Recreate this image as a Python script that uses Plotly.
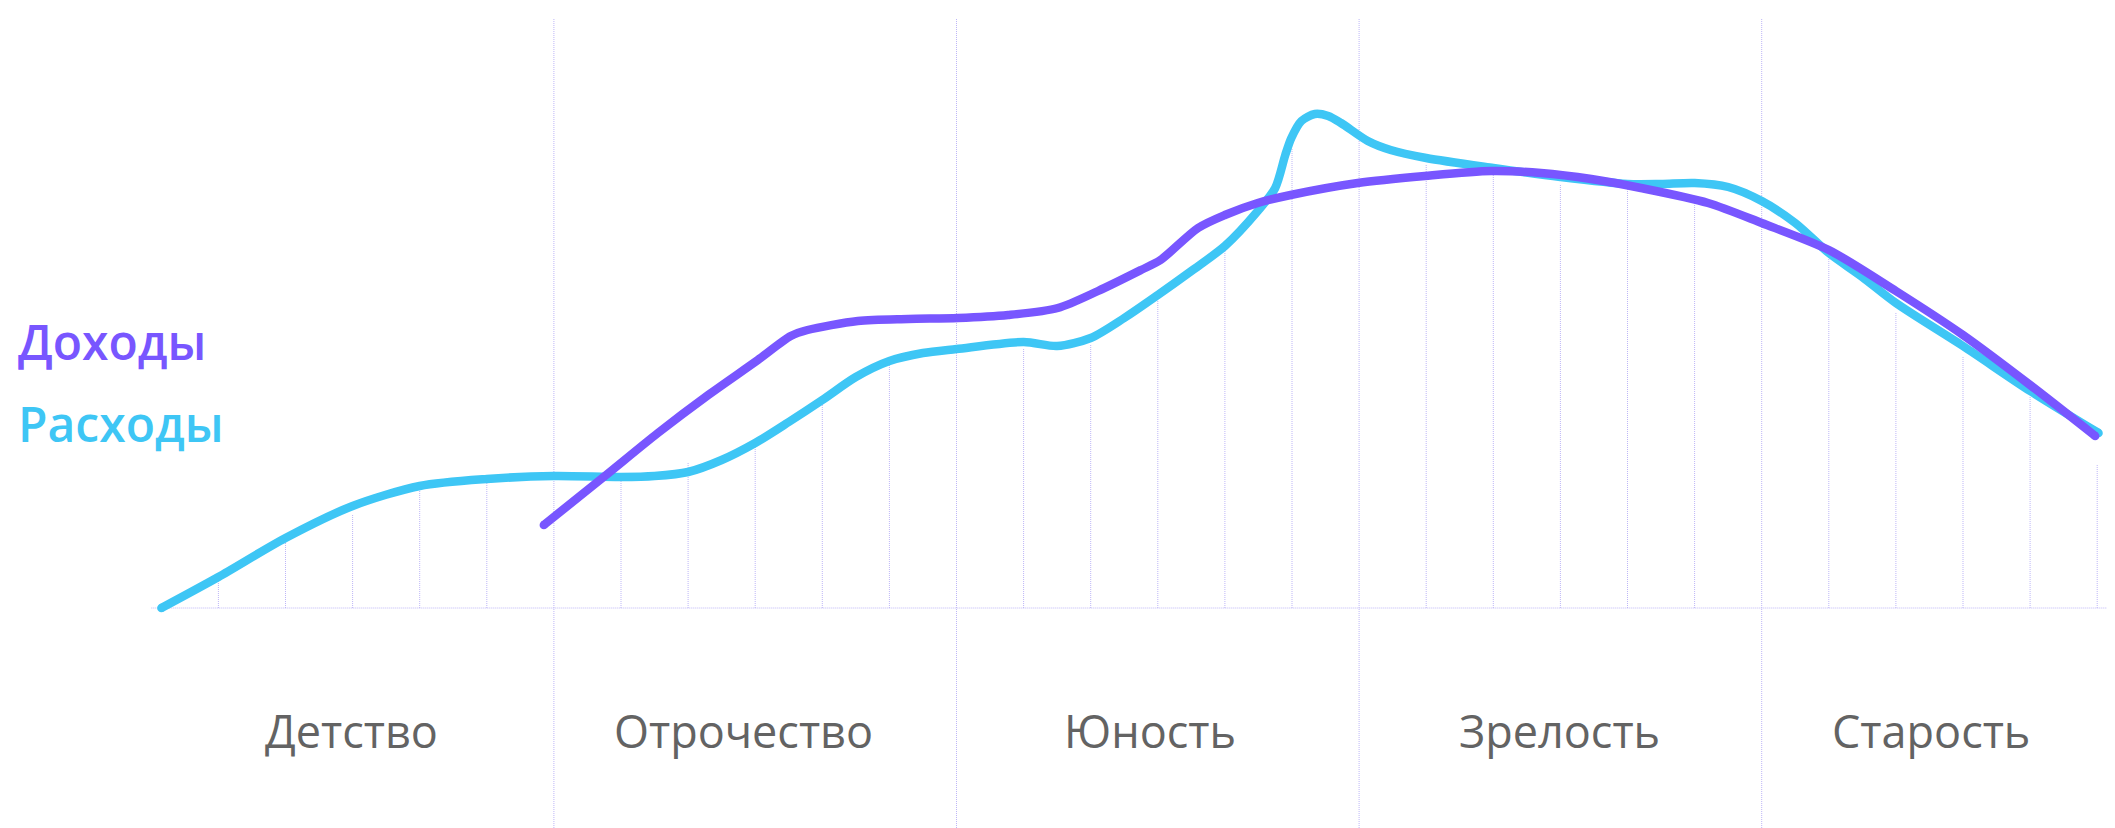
import plotly.graph_objects as go

# ---- data (x in age-step units, y in arbitrary level units) ----
stages = ["Детство", "Отрочество", "Юность", "Зрелость", "Старость"]
series_names = ["Доходы", "Расходы"]

expense_x = [0.15, 1, 2, 3, 4, 5, 6, 7, 7.5, 8, 8.5, 9, 9.5, 10, 10.5, 11, 11.5, 12, 13, 13.5,
             14, 14.5, 15, 15.5, 16, 16.49, 16.75, 16.9, 16.99, 17.14, 17.34, 17.54, 17.73,
             18.13, 18.47, 19, 20, 21, 22, 22.5, 23, 23.5, 24, 24.5, 25, 25.5, 26, 27, 28, 29.02]
expense_y = [0, 6.2, 14, 20.4, 24.4, 25.8, 26.4, 26.2, 26.4, 27.2, 29.6, 33, 37.2, 41.6, 46.2,
             49.4, 51, 51.8, 53.2, 52.4, 54, 58, 62.6, 67.4, 72.4, 79.4, 84, 90.6, 94, 97.4,
             98.8, 98.4, 97, 93.4, 91.6, 90, 88, 86.2, 84.8, 84.8, 85, 84.2, 81.4, 77, 71,
             66.2, 61, 52.4, 43.4, 35]

income_x = [5.85, 6.76, 7.55, 8.3, 9.04, 9.53, 9.78, 10.53, 11.28, 12.02, 12.77, 13.51, 14.11,
            14.75, 15.04, 15.6, 16.0, 16.49, 16.98, 17.98, 18.98, 19.97, 20.71, 21.46, 22.2,
            23.2, 24, 25, 26, 27, 28, 28.97]
income_y = [16.6, 26.4, 35, 42.6, 49.6, 54.4, 55.6, 57.4, 57.8, 58, 58.6, 60, 63.4, 67.6,
            69.6, 76, 78.6, 81, 82.6, 85, 86.4, 87.4, 87, 85.8, 84, 81, 77, 71.6, 63.4, 54.6,
            44.6, 34.4]

guide_x = [1, 2, 3, 4, 5, 7, 8, 9, 10, 11, 13, 14, 15, 16, 17, 19, 20, 21, 22, 23,
           25, 26, 27, 28, 29]
guide_top = [5.4, 13.4, 18.6, 24.2, 25, 25.6, 29, 32.6, 42, 49, 52, 52.6, 61.4, 72, 92,
             88.8, 86.6, 84.6, 83.8, 81.2, 70.6, 59, 50.4, 42.4, 28.8]

stage_bounds = [6, 12, 18, 24]
stage_label_x = [2.98, 8.83, 14.88, 20.98, 26.53]

# ---- style ----
PURPLE = "#7856FF"
CYAN = "#3EC6F5"
GRID = "#bdb6f7"
LABEL = "#636363"
FONT = "Open Sans"

W, H = 2115, 828
X0_PX, UNIT_PX = 143.3, 67.1
Y0_PX, VUNIT_PX = 600, 5.0

x_range = [(0 - X0_PX) / UNIT_PX, (W - X0_PX) / UNIT_PX]
y_range = [(Y0_PX - H) / VUNIT_PX, Y0_PX / VUNIT_PX]

fig = go.Figure()

# short dotted guide lines
gx, gy = [], []
for xv, tv in zip(guide_x, guide_top):
    gx += [xv, xv, None]
    gy += [0, tv, None]
fig.add_trace(go.Scatter(x=gx, y=gy, mode="lines", hoverinfo="skip", showlegend=False,
                         line=dict(color=GRID, width=1, dash="1px,1px")))

# baseline
fig.add_trace(go.Scatter(x=[0, x_range[1]], y=[0, 0], mode="lines", hoverinfo="skip",
                         showlegend=False, line=dict(color=GRID, width=1, dash="1px,1px")))

# stage dividers (full height)
for b in stage_bounds:
    fig.add_shape(type="line", xref="x", yref="paper", x0=b, x1=b, y0=0, y1=1 - 10 / H,
                  line=dict(color=GRID, width=1, dash="1px,1px"), layer="below")

LW = 8.5
for xs, ys, col, name in [(expense_x, expense_y, CYAN, series_names[1]),
                          (income_x, income_y, PURPLE, series_names[0])]:
    fig.add_trace(go.Scatter(x=xs, y=ys, mode="lines", name=name, showlegend=False,
                             line=dict(color=col, width=LW, shape="spline", smoothing=0.8)))
    fig.add_trace(go.Scatter(x=[xs[0], xs[-1]], y=[ys[0], ys[-1]], mode="markers",
                             showlegend=False, hoverinfo="skip",
                             marker=dict(color=col, size=LW, line=dict(width=0))))

# legend-like labels
fig.add_annotation(text=series_names[0], xref="paper", yref="paper", x=8 / W, y=1 - 333 / H,
                   xanchor="left", yanchor="middle", showarrow=False,
                   font=dict(family=FONT, size=48, color=PURPLE, weight=600))
fig.add_annotation(text=series_names[1], xref="paper", yref="paper", x=8 / W, y=1 - 415 / H,
                   xanchor="left", yanchor="middle", showarrow=False,
                   font=dict(family=FONT, size=48, color=CYAN, weight=600))

# stage labels
for lbl, xv in zip(stages, stage_label_x):
    fig.add_annotation(text=lbl, xref="x", yref="paper", x=xv, y=1 - 722 / H,
                       xanchor="center", yanchor="middle", showarrow=False,
                       font=dict(family=FONT, size=45, color=LABEL))

fig.update_layout(width=W, height=H, margin=dict(l=0, r=0, t=0, b=0),
                  paper_bgcolor="white", plot_bgcolor="white",
                  xaxis=dict(range=x_range, visible=False, fixedrange=True),
                  yaxis=dict(range=y_range, visible=False, fixedrange=True))

fig.write_html("out.html")
